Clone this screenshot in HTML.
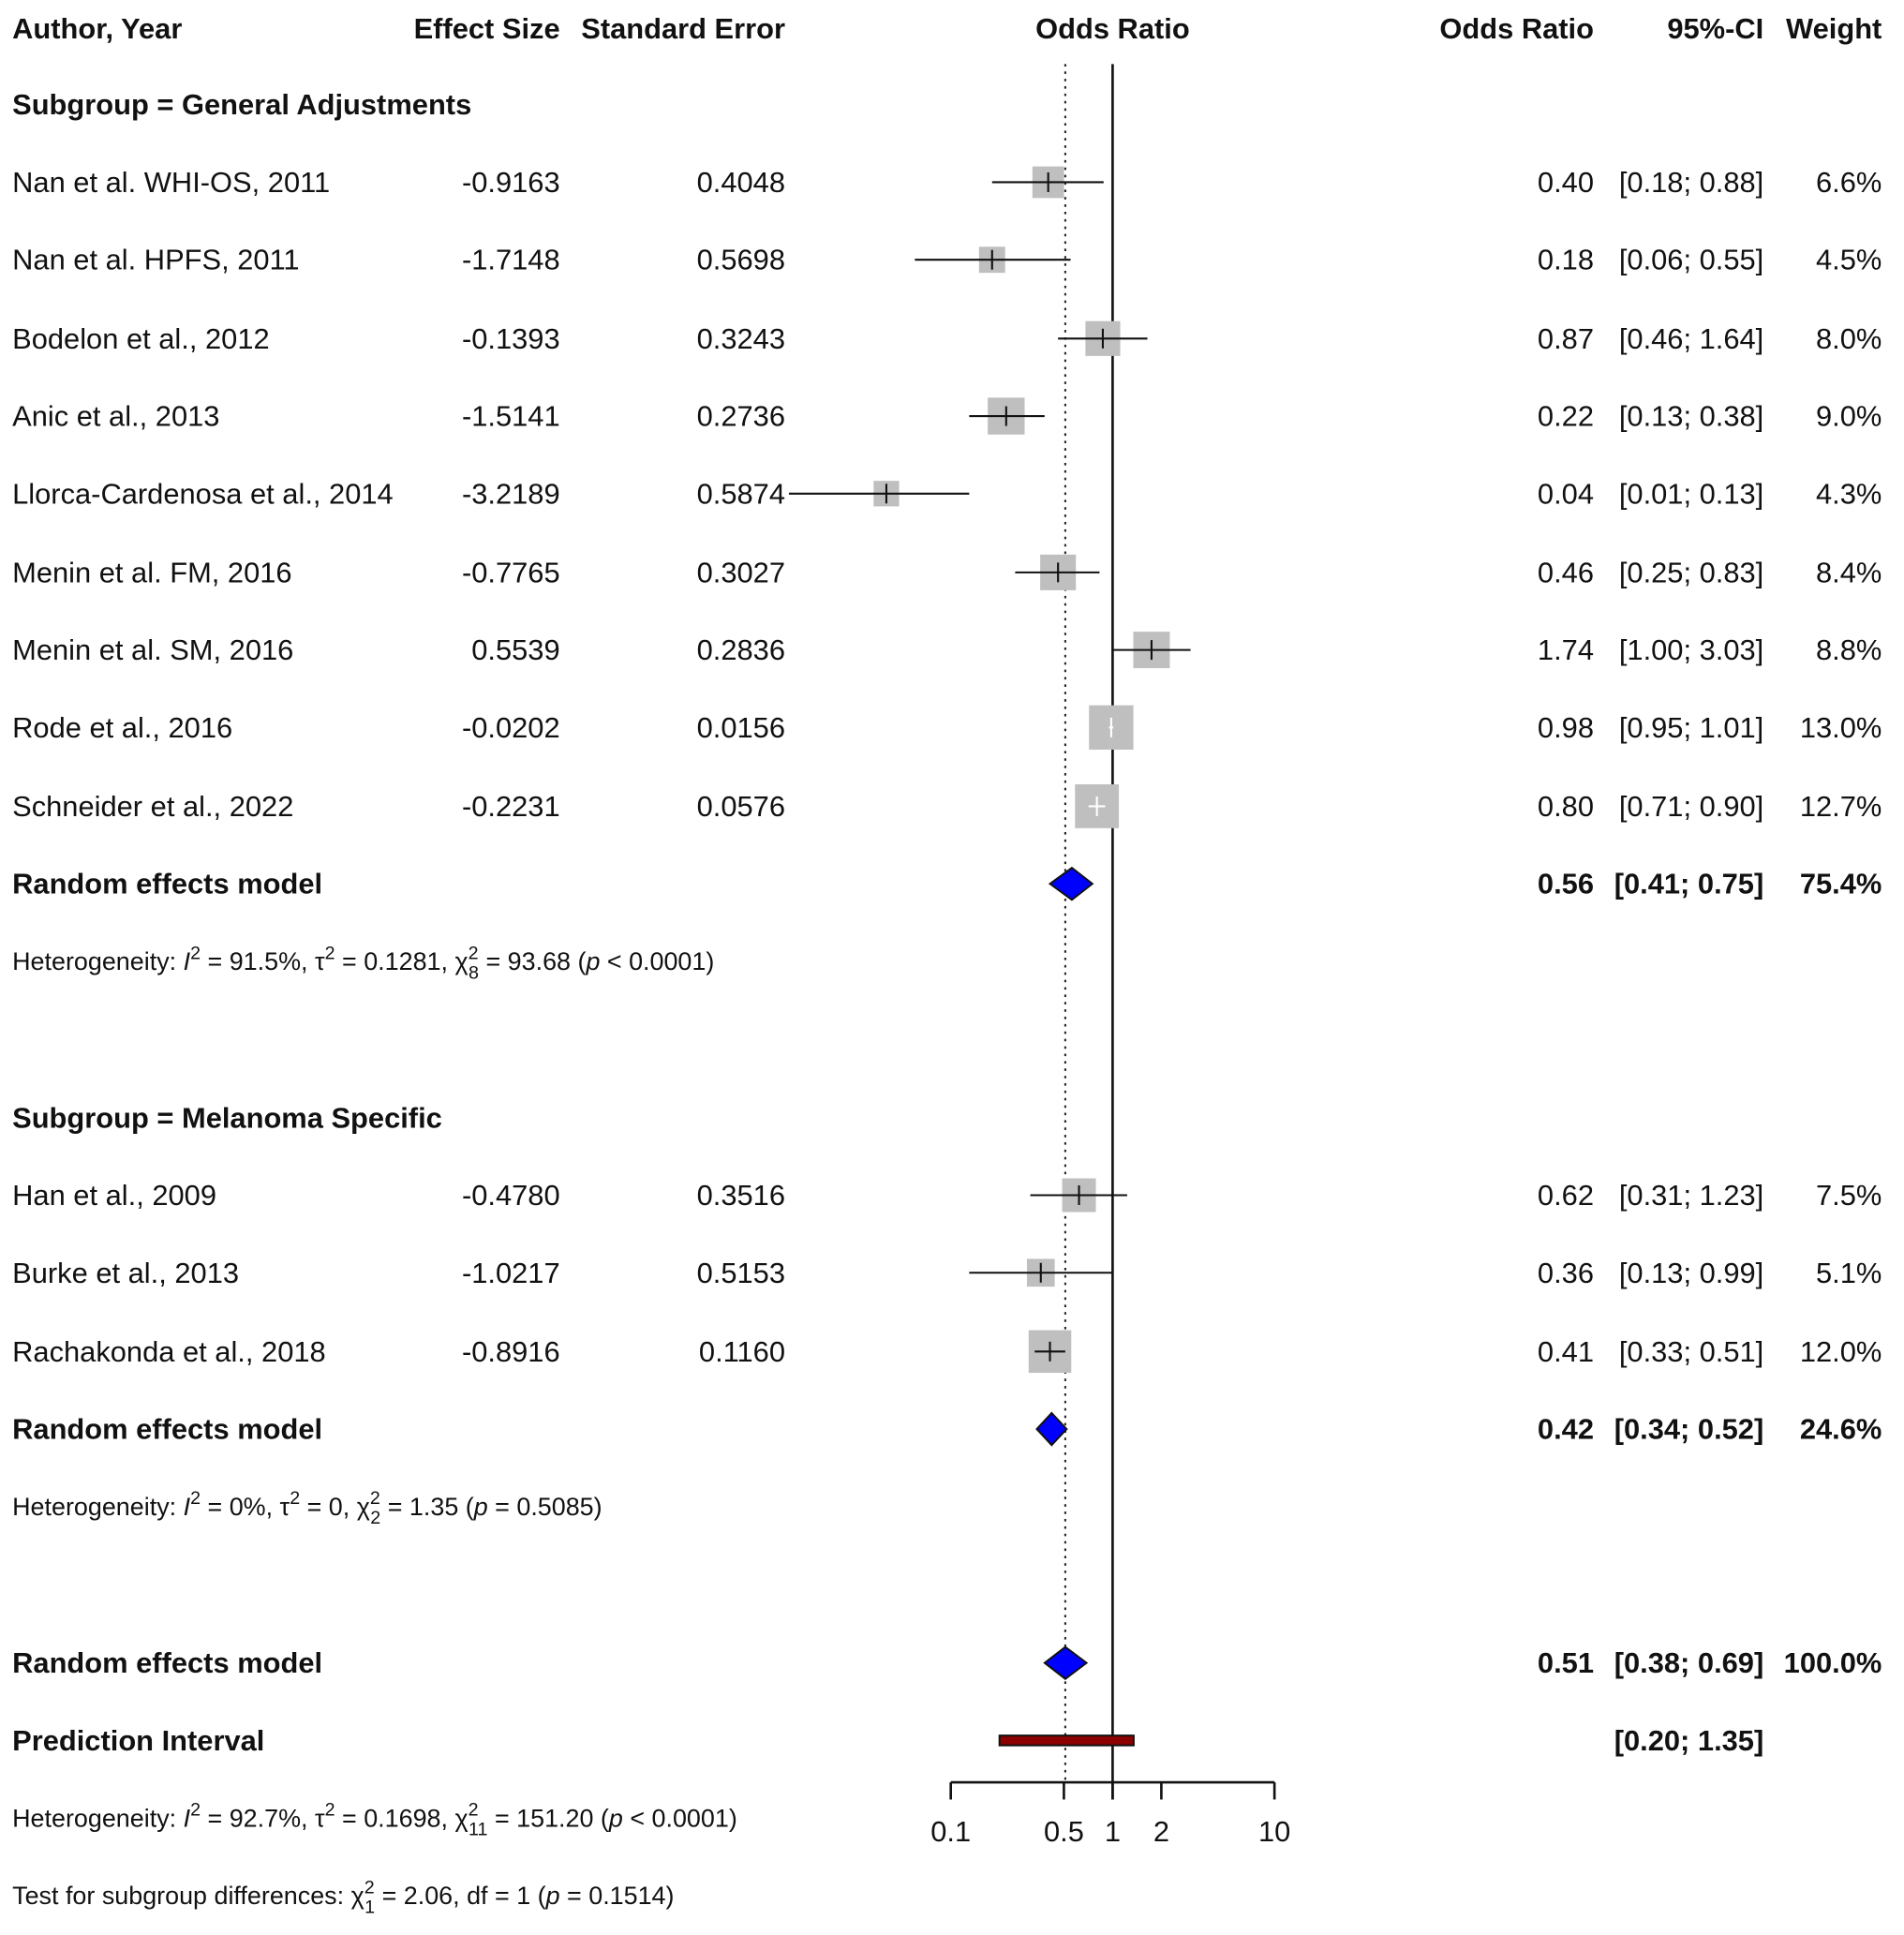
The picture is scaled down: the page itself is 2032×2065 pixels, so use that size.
<!DOCTYPE html>
<html><head><meta charset="utf-8"><style>
html,body{margin:0;padding:0;background:#fff;}
svg{display:block;font-family:"Liberation Sans",Arial,sans-serif;}
</style></head><body>
<svg id="chart" width="2032" height="2065" viewBox="0 0 1547 1572" xmlns="http://www.w3.org/2000/svg">
<g id="text" font-size="23.5" fill="#111">
<g font-weight="bold">
<text x="10" y="31">Author, Year</text>
<text x="455" y="31" text-anchor="end">Effect Size</text>
<text x="638" y="31" text-anchor="end">Standard Error</text>
<text x="904" y="31" text-anchor="middle">Odds Ratio</text>
<text x="1295" y="31" text-anchor="end">Odds Ratio</text>
<text x="1433" y="31" text-anchor="end">95%-CI</text>
<text x="1529" y="31" text-anchor="end">Weight</text>
</g>
<text x="10" y="93" font-weight="bold">Subgroup = General Adjustments</text>
<text x="10" y="916" font-weight="bold">Subgroup = Melanoma Specific</text>
<g font-size="20.5">
<text x="10" y="788">Heterogeneity: <tspan font-style="italic">I</tspan><tspan dy="-9" font-size="15">2</tspan><tspan dy="9"> = 91.5%, τ</tspan><tspan dy="-9" font-size="15">2</tspan><tspan dy="9"> = 0.1281, χ</tspan><tspan dy="-9" font-size="15">2</tspan><tspan dx="-8" dy="16" font-size="15">8</tspan><tspan dy="-7"> = 93.68 (</tspan><tspan font-style="italic">p</tspan> &lt; 0.0001)</text>
<text x="10" y="1231">Heterogeneity: <tspan font-style="italic">I</tspan><tspan dy="-9" font-size="15">2</tspan><tspan dy="9"> = 0%, τ</tspan><tspan dy="-9" font-size="15">2</tspan><tspan dy="9"> = 0, χ</tspan><tspan dy="-9" font-size="15">2</tspan><tspan dx="-8" dy="16" font-size="15">2</tspan><tspan dy="-7"> = 1.35 (</tspan><tspan font-style="italic">p</tspan> = 0.5085)</text>
<text x="10" y="1484">Heterogeneity: <tspan font-style="italic">I</tspan><tspan dy="-9" font-size="15">2</tspan><tspan dy="9"> = 92.7%, τ</tspan><tspan dy="-9" font-size="15">2</tspan><tspan dy="9"> = 0.1698, χ</tspan><tspan dy="-9" font-size="15">2</tspan><tspan dx="-8" dy="16" font-size="15">11</tspan><tspan dy="-7"> = 151.20 (</tspan><tspan font-style="italic">p</tspan> &lt; 0.0001)</text>
<text x="10" y="1547">Test for subgroup differences: χ<tspan dy="-9" font-size="15">2</tspan><tspan dx="-8" dy="16" font-size="15">1</tspan><tspan dy="-7"> = 2.06, df = 1 (</tspan><tspan font-style="italic">p</tspan> = 0.1514)</text>
</g>
</g>
<g id="plot"></g>
</svg>
<script>
const studyNames = ["Nan et al. WHI-OS, 2011","Nan et al. HPFS, 2011","Bodelon et al., 2012","Anic et al., 2013","Llorca-Cardenosa et al., 2014","Menin et al. FM, 2016","Menin et al. SM, 2016","Rode et al., 2016","Schneider et al., 2022","Han et al., 2009","Burke et al., 2013","Rachakonda et al., 2018"];
const effectSizes = ["-0.9163","-1.7148","-0.1393","-1.5141","-3.2189","-0.7765","0.5539","-0.0202","-0.2231","-0.4780","-1.0217","-0.8916"];
const stdErrors = ["0.4048","0.5698","0.3243","0.2736","0.5874","0.3027","0.2836","0.0156","0.0576","0.3516","0.5153","0.1160"];
const orValues = [0.40,0.18,0.87,0.22,0.04,0.46,1.74,0.98,0.80,0.62,0.36,0.41];
const ciLower = [0.18,0.06,0.46,0.13,0.01,0.25,1.00,0.95,0.71,0.31,0.13,0.33];
const ciUpper = [0.88,0.55,1.64,0.38,0.13,0.83,3.03,1.01,0.90,1.23,0.99,0.51];
const weights = [6.6,4.5,8.0,9.0,4.3,8.4,8.8,13.0,12.7,7.5,5.1,12.0];
const studyRows = [0,1,2,3,4,5,6,7,8,10,11,12];
const modelNames = ["Random effects model","Random effects model","Random effects model"];
const modelOR = [0.56,0.42,0.51];
const modelLower = [0.41,0.34,0.38];
const modelUpper = [0.75,0.52,0.69];
const modelWeights = ["75.4%","24.6%","100.0%"];
const modelRows = [9,13,16];
const predLower = 0.20, predUpper = 1.35;
const axisTicks = [0.1,0.5,1,2,10];
const axisTickLabels = ["0.1","0.5","1","2","10"];

const NS="http://www.w3.org/2000/svg";
const plot=document.getElementById('plot');
const xs=v=>904+131.5*Math.log10(v);
const rowY=r=>{const map=[148,211,275,338,401,465,528,591,655,718,971,1034,1098,1161,0,0,1351,1414];return map[r];};
function mk(tag,attrs,parent){const e=document.createElementNS(NS,tag);for(const k in attrs)e.setAttribute(k,attrs[k]);(parent||plot).appendChild(e);return e;}
function txt(s,x,y,anchor,bold,name){const t=mk('text',{x:x,y:y+8,'font-size':23.5,fill:'#111','text-anchor':anchor||'start','font-weight':bold?'bold':'normal'});t.textContent=s;


return t;}
const f2=v=>v.toFixed(2);

const dl=mk('line',{x1:xs(modelOR[2]),x2:xs(modelOR[2]),y1:52,y2:1448,stroke:'#222','stroke-width':1.6,'stroke-dasharray':'2,4'});


const nl=mk('line',{x1:xs(1),x2:xs(1),y1:52,y2:1462,stroke:'#111','stroke-width':2});



studyNames.forEach((n,i)=>{
  const y=rowY(studyRows[i]);
  txt(n,10,y,'start',false,'study-name');
  txt(effectSizes[i],455,y,'end',false,'effect-size');
  txt(stdErrors[i],638,y,'end',false,'standard-error');
  txt(f2(orValues[i]),1295,y,'end',false,'odds-ratio-value');
  txt('['+f2(ciLower[i])+'; '+f2(ciUpper[i])+']',1433,y,'end',false,'confidence-interval');
  txt(weights[i].toFixed(1)+'%',1529,y,'end',false,'weight');
  const s=10*Math.sqrt(weights[i]);const cx=xs(orValues[i]);
  const b=mk('rect',{x:cx-s/2,y:y-s/2,width:s,height:s,fill:'#bfbfbf'});
  
  
  const x1=xs(ciLower[i]),x2=xs(ciUpper[i]);
  const inside=((x2-x1)<0.5*s);
  const col=inside?'#fff':'#111';
  const l=mk('line',{x1:x1,x2:x2,y1:y,y2:y,stroke:col,'stroke-width':1.6});
  
  
  const t=mk('line',{x1:cx,x2:cx,y1:y-8,y2:y+8,stroke:col,'stroke-width':1.6});
  
  
});

modelNames.forEach((n,i)=>{
  const y=rowY(modelRows[i]);
  txt(n,10,y,'start',true,'model-label');
  txt(f2(modelOR[i]),1295,y,'end',true,'model-odds-ratio');
  txt('['+f2(modelLower[i])+'; '+f2(modelUpper[i])+']',1433,y,'end',true,'model-ci');
  txt(modelWeights[i],1529,y,'end',true,'model-weight');
  const a=xs(modelLower[i]),m=xs(modelOR[i]),c=xs(modelUpper[i]);
  const d=mk('polygon',{points:`${a},${y} ${m},${y-13} ${c},${y} ${m},${y+13}`,fill:'#0000ff',stroke:'#111','stroke-width':1.5});
  
  
});

const py=rowY(17);
txt('Prediction Interval',10,py,'start',true,'prediction-interval-label');
txt('['+f2(predLower)+'; '+f2(predUpper)+']',1433,py,'end',true,'prediction-interval-ci');
const pr=mk('rect',{x:xs(predLower),y:py-4,width:xs(predUpper)-xs(predLower),height:8,fill:'#8b0000',stroke:'#111','stroke-width':1.5});



const ax=mk('line',{x1:xs(axisTicks[0]),x2:xs(axisTicks[axisTicks.length-1]),y1:1448,y2:1448,stroke:'#111','stroke-width':2});


axisTicks.forEach((v,i)=>{
  const tk=mk('line',{x1:xs(v),x2:xs(v),y1:1448,y2:1462,stroke:'#111','stroke-width':2});
  
  
  const tl=mk('text',{x:xs(v),y:1496,'font-size':23.5,fill:'#111','text-anchor':'middle'});
  tl.textContent=axisTickLabels[i];
  
  
});
</script>
</body></html>
